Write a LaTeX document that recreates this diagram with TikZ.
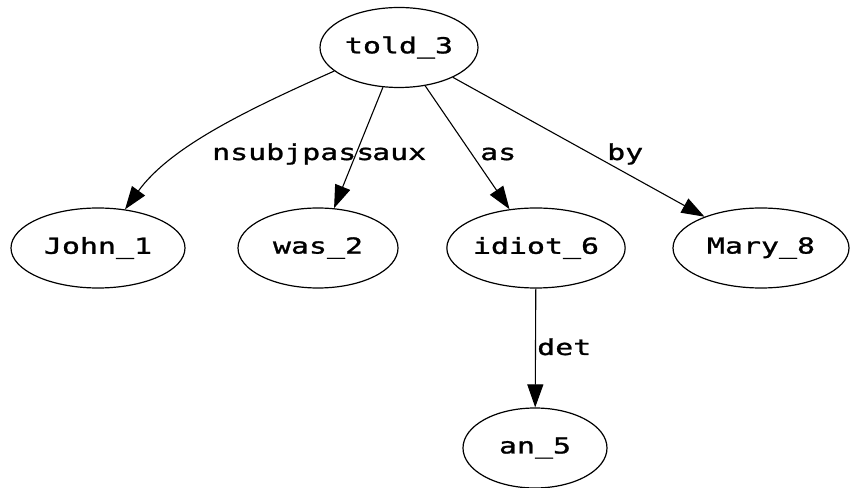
\documentclass[tikz,border=0pt]{standalone}
\usepackage{fontspec}
\newfontfamily\depfont[FakeStretch=1.36,FakeBold=1.2]{DejaVu Sans Mono}
\usetikzlibrary{shapes.geometric,arrows.meta}
\begin{document}
\begin{tikzpicture}[x=1pt,y=1pt,
  word/.style={draw=black,ellipse,line width=1.2pt,inner sep=0pt,
    font=\depfont\fontsize{22}{26}\selectfont},
  dep/.style={draw=black,line width=1.1pt,-{Triangle[length=23pt,width=16pt]}},
  rel/.style={anchor=base west,inner sep=0pt,font=\depfont\fontsize{22}{26}\selectfont}]
\useasboundingbox[fill=white] (0,0) rectangle (850,487);

% words of the sentence
\node[word,minimum width=158pt,minimum height=80pt] (told)  at (399,439.5) {told\_3};
\node[word,minimum width=174pt,minimum height=80pt] (john)  at (98,239)    {John\_1};
\node[word,minimum width=160pt,minimum height=80pt] (was)   at (318,239)   {was\_2};
\node[word,minimum width=168pt,minimum height=80pt] (idiot) at (536,239)   {idiot\_6};
\node[word,minimum width=176pt,minimum height=80pt] (mary)  at (761,239)   {Mary\_8};
\node[word,minimum width=144pt,minimum height=80pt] (an)    at (535,39)    {an\_5};

% dependency arcs
\draw[dep] (told.200) .. controls +(-90,-40) and +(45,62) .. (john.55);
\draw[dep] (told) -- (was);
\draw[dep] (told) -- (idiot);
\draw[dep] (told) -- (mary);
\draw[dep] (idiot) -- (an);

% relation labels
\node[rel] (lnsubj) at (212,327) {nsubjpass};
\node[rel] (laux)   at (372,327) {aux};
\node[rel] (las)    at (480,327) {as};
\node[rel] (lby)    at (607,327) {by};
\node[rel] (ldet)   at (537,132) {det};
\end{tikzpicture}
\end{document}
